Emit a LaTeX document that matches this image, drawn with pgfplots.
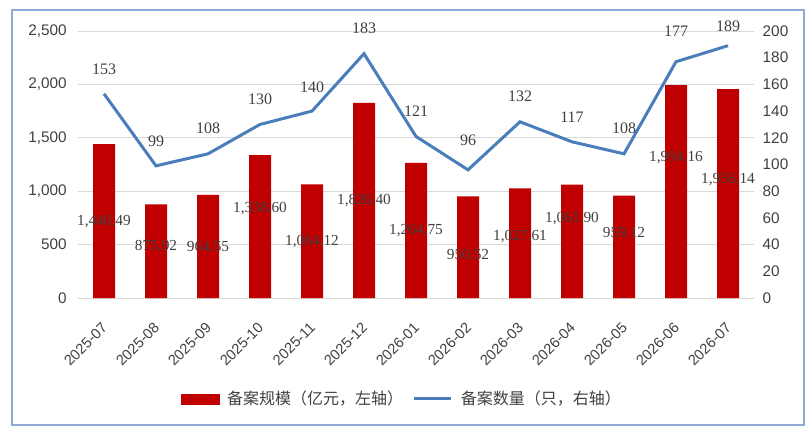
\documentclass[border=0pt]{standalone}
\usepackage{fontspec}
\setmainfont{Liberation Sans}
\newfontfamily\serif{Liberation Serif}
\newfontfamily\cjk{Noto Sans CJK SC}
\usepackage{pgfplots}
\usepackage{pgfplotstable}
\pgfplotsset{compat=1.18}
\definecolor{barred}{RGB}{192,0,0}
\definecolor{lineblue}{RGB}{74,126,187}
\definecolor{gridgray}{RGB}{217,217,217}
\definecolor{framecol}{RGB}{143,170,215}
\definecolor{txt}{RGB}{64,64,64}

\pgfplotstableread{
x amount lab labpos
0 1440.49 1,440.49 712
1 875.92 875.92 496
2 964.55 964.55 478
3 1338.60 1,338.60 833
4 1064.12 1,064.12 524
5 1826.40 1,826.40 908
6 1264.75 1,264.75 627
7 950.52 950.52 403
8 1027.61 1,027.61 571
9 1061.90 1,061.90 740
10 959.12 959.12 609
11 1994.16 1,994.16 1311
12 1956.14 1,956.14 1105
}\bars

\pgfplotstableread{
x count labpos
0 153 171.5
1 99 117.6
2 108 127.3
3 130 149
4 140 158
5 183 202
6 121 140
7 96 118
8 132 151
9 117 135.6
10 108 127
11 177 200
12 189 203.7
}\counts

\begin{document}
\begin{tikzpicture}
\pgfplotsset{
  common/.style={
    scale only axis, width=507pt, height=200.25pt,
    xmin=-0.5, xmax=12.5, clip=false,
    major tick length=0pt,
    /pgf/number format/assume math mode=true,
    tick label style={text=txt, font=\fontsize{11.5}{13}\selectfont},
  }
}
\begin{axis}[
  common,
  ymin=0, ymax=2500,
  ytick={0,500,1000,1500,2000,2500},
  yticklabel style={/pgf/number format/1000 sep={,}, xshift=-5pt},
  xtick={0,...,12},
  xticklabels={2025-07,2025-08,2025-09,2025-10,2025-11,2025-12,2026-01,2026-02,2026-03,2026-04,2026-05,2026-06,2026-07},
  x tick label style={rotate=45, anchor=north east, xshift=-10.6pt, yshift=-7.4pt, font=\fontsize{11}{13}\selectfont},
  ymajorgrids, grid style={gridgray, line width=0.75pt},
  axis line style={draw=none},
]
\addplot[ybar, bar width=16.5pt, fill=barred, draw=none] table[x=x, y=amount]{\bars};
\addplot[draw=none, mark=none, nodes near coords, point meta=explicit symbolic,
  nodes near coords style={anchor=center, text=txt, font=\serif\fontsize{11.5}{13}\selectfont}]
  table[x=x, y=labpos, meta=lab]{\bars};
\coordinate (sw) at (rel axis cs:0,0);
\end{axis}
\begin{axis}[
  common,
  ymin=0, ymax=200,
  ytick={0,20,...,200},
  axis x line=none,
  axis y line*=right,
  y axis line style={draw=none},
  yticklabel style={xshift=3pt},
  legend columns=2,
  legend style={at={(0.48,-0.378)}, anchor=center, draw=none, fill=none,
    font=\cjk\fontsize{12}{14}\selectfont, text=txt,
    /tikz/every even column/.append style={column sep=5pt},
    /tikz/every odd column/.append style={column sep=4pt}},
]
\addlegendimage{legend image code/.code={\fill[barred] (0pt,-3.75pt) rectangle (28pt,3.75pt);}}
\addlegendentry{备案规模（亿元，左轴）}
\addplot[lineblue, line width=2.25pt, mark=none,
  legend image code/.code={\draw[lineblue, line width=2.25pt] (0pt,0pt) -- (28pt,0pt);}]
  table[x=x, y=count]{\counts};
\addlegendentry{备案数量（只，右轴）}
\addplot[draw=none, mark=none, forget plot, nodes near coords, point meta=explicit symbolic,
  nodes near coords style={anchor=center, text=txt, font=\serif\fontsize{12}{14}\selectfont}]
  table[x=x, y=labpos, meta=count]{\counts};
\end{axis}
\path (sw) ++(-58.5pt,-103.5pt) rectangle ++(609pt,327pt);
\draw[framecol, line width=0.9pt] (sw) ++(-49.5pt,-95.25pt) rectangle ++(594pt,311.25pt);
\end{tikzpicture}
\end{document}
